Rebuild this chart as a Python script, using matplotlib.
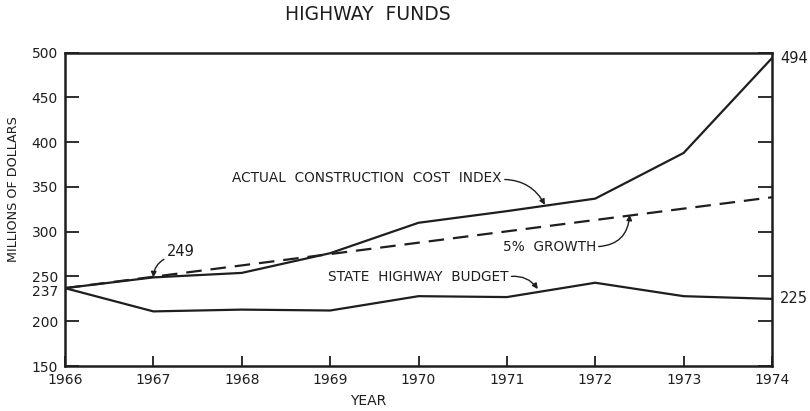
import matplotlib
matplotlib.use("Agg")
import matplotlib.pyplot as plt

years = [1966, 1967, 1968, 1969, 1970, 1971, 1972, 1973, 1974]
cost_index = [237, 249, 254, 276, 310, 323, 337, 388, 494]
highway_budget = [237, 211, 213, 212, 228, 227, 243, 228, 225]
growth_years = [1966, 1974]
growth_5pct = [237, 338.5]

y_ticks = [150, 200, 250, 300, 350, 400, 450, 500]
x_ticks = years

ink = "#1e1e1e"
plt.rcParams['font.family'] = ['DejaVu Sans']

fig = plt.figure(figsize=(8.10, 4.11), dpi=100)
ax = fig.add_axes([65/810, 1-366/411, (772-65)/810, (366-52.7)/411])

ax.plot(years, cost_index, color=ink, lw=1.6, solid_joinstyle='miter')
ax.plot(years, highway_budget, color=ink, lw=1.6)
ax.plot(growth_years, growth_5pct, color=ink, lw=1.6, dashes=(7, 4))

ax.set_xlim(1966, 1974)
ax.set_ylim(150, 500)
ax.set_xticks(x_ticks)
ax.set_xticklabels([str(y) for y in x_ticks], fontsize=10, color=ink)
ax.set_yticks(y_ticks)
ax.set_yticklabels([str(v) for v in y_ticks], fontsize=10, color=ink)
ax.tick_params(axis='y', which='major', direction='in', length=10, width=1.3,
               right=True, pad=5, colors=ink)
ax.tick_params(axis='x', direction='in', length=7, width=1.3, pad=5, colors=ink)
for s in ax.spines.values():
    s.set_linewidth(1.8)
    s.set_color(ink)

# extra left label for the 1966 starting value
ax.annotate("237", xy=(1966, growth_5pct[0]), xytext=(-5, -2.5), textcoords='offset points',
            ha='right', va='center', fontsize=10, color=ink, annotation_clip=False)

fig.text(368/810, 1-401/411, "YEAR", ha='center', va='center', fontsize=10, color=ink)
fig.text(14/810, 1-189/411, "MILLIONS OF DOLLARS", ha='center', va='center',
         rotation=90, fontsize=9.2, color=ink)
fig.text(368/810, 1-15/411, "HIGHWAY  FUNDS", ha='center', va='center',
         fontsize=13.5, color=ink)

ax.annotate("494", xy=(1974, cost_index[-1]), xytext=(6, 0), textcoords='offset points',
            ha='left', va='center', fontsize=10.5, color=ink, annotation_clip=False)
ax.annotate("225", xy=(1974, highway_budget[-1]), xytext=(6, 0), textcoords='offset points',
            ha='left', va='center', fontsize=10.5, color=ink, annotation_clip=False)

arrow = dict(arrowstyle='-|>', color=ink, lw=1.0, mutation_scale=8, shrinkA=0, shrinkB=0)

ax.annotate("249", xy=(1967, 249), xytext=(1967.15, 277.5), fontsize=10.5, color=ink,
            ha='left', va='center',
            arrowprops=dict(arrow, connectionstyle="arc3,rad=0.3", relpos=(0, 0.1)))
ax.annotate("ACTUAL  CONSTRUCTION  COST  INDEX", xy=(1971.43, 330), xytext=(1969.42, 360),
            fontsize=9.8, color=ink, ha='center', va='center',
            arrowprops=dict(arrow, connectionstyle="arc3,rad=-0.3", relpos=(1, 0.4)))
ax.annotate("5%  GROWTH", xy=(1972.39, 319), xytext=(1971.48, 283.3),
            fontsize=9.8, color=ink, ha='center', va='center',
            arrowprops=dict(arrow, connectionstyle="arc3,rad=0.45", relpos=(1, 0.5)))
ax.annotate("STATE  HIGHWAY  BUDGET", xy=(1971.35, 236), xytext=(1970.0, 249.8),
            fontsize=9.8, color=ink, ha='center', va='center',
            arrowprops=dict(arrow, connectionstyle="arc3,rad=-0.3", relpos=(1, 0.5)))

fig.savefig("out.png", dpi=100, facecolor='white')
